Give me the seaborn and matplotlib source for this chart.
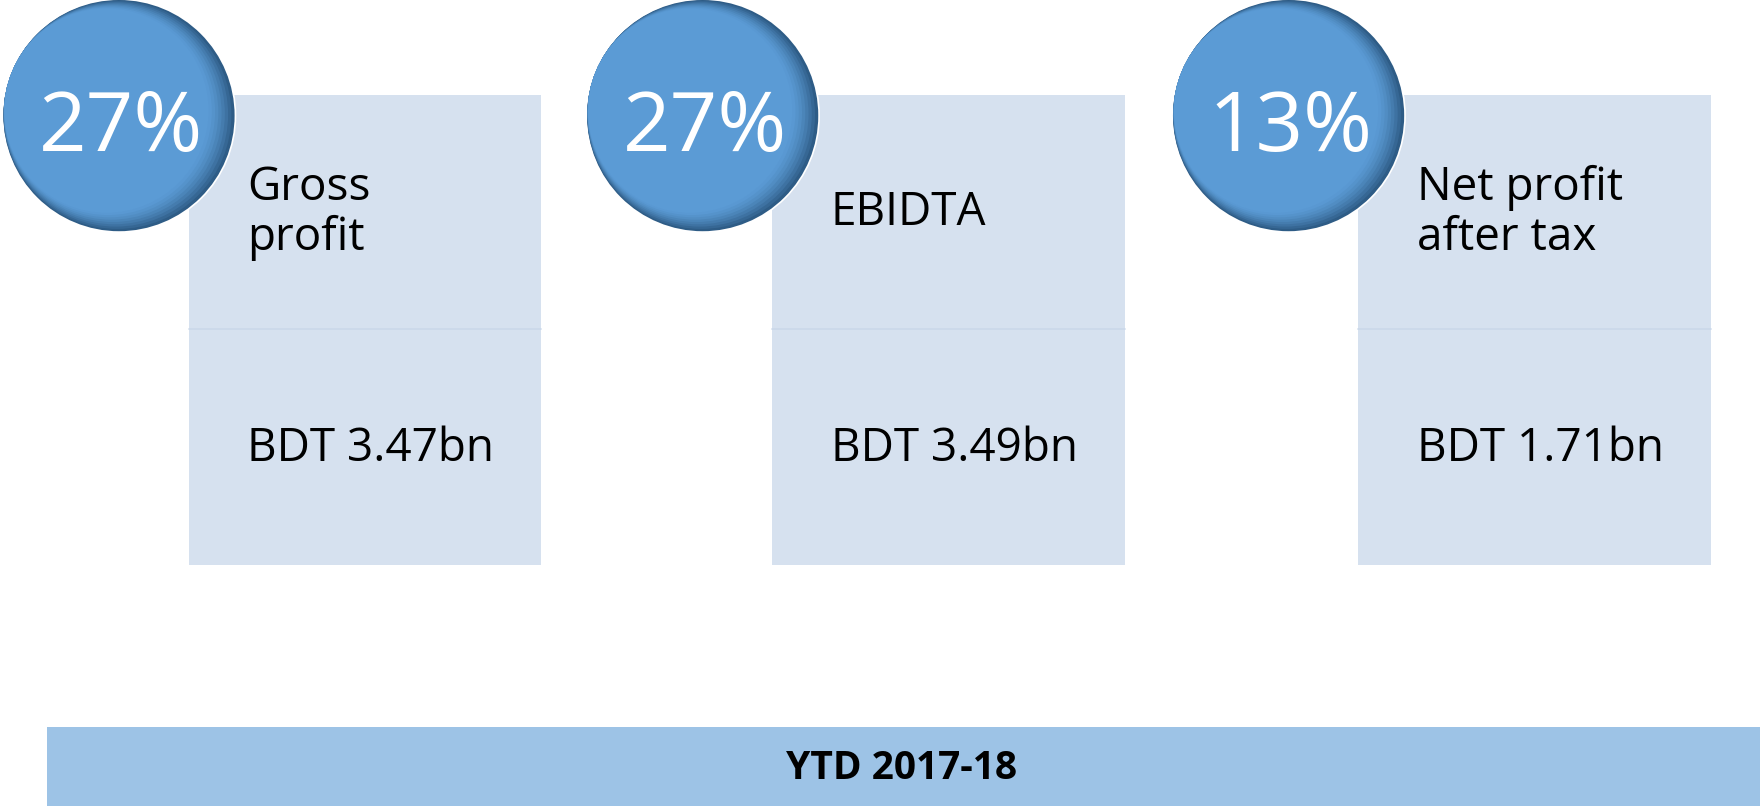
import numpy as np
import pandas as pd
import seaborn as sns
import matplotlib.pyplot as plt
from matplotlib.colors import to_rgb
from matplotlib.patches import Circle, Rectangle

# data
metrics = ["Gross\nprofit", "EBIDTA", "Net profit\nafter tax"]
margins = [27, 27, 13]          # %
amounts = [3.47, 3.49, 1.71]    # BDT bn
period = "YTD 2017-18"

df = pd.DataFrame({"metric": metrics, "margin": margins, "amount": amounts})

sns.set_style("white")
plt.rcParams["font.family"] = ["Open Sans", "DejaVu Sans"]

circle_blue = "#5B9BD5"
shadow_blue = "#2E5C86"
box_blue = "#D6E1EF"
line_blue = "#CAD8EA"
bar_blue = "#9DC3E6"

fig = plt.figure(figsize=(17.6, 8.07), dpi=100)
ax = fig.add_axes([0, 0, 1, 1])
ax.set_xlim(0, 1568)
ax.set_ylim(719, 0)
ax.axis("off")

# layout (in the 1568 x 719 frame)
box_x0 = [168, 688, 1210]
box_w = 314
box_top, box_bot, box_mid = 85, 503, 293
r = 103
circ_dx = -62   # circle centre relative to box left
circ_y = 103

# direction the highlight is pushed to (shadow ends up lower right)
d = np.array([-0.93, -0.37])

for i, row in df.iterrows():
    x0 = box_x0[i]
    ax.add_patch(Rectangle((x0, box_top), box_w, box_bot - box_top,
                           facecolor=box_blue, edgecolor="none", zorder=1))
    ax.plot([x0, x0 + box_w], [box_mid, box_mid], color=line_blue, lw=1.2, zorder=2)

    cx = x0 + circ_dx
    # white rim + dark inner shadow on the right
    ax.add_patch(Circle((cx, circ_y), r + 1.5, facecolor="white", edgecolor="none", zorder=3))
    ax.add_patch(Circle((cx, circ_y), r, facecolor=shadow_blue, edgecolor="none", zorder=4))
    steps = 8
    for k in range(steps):
        t = (k + 1) / steps
        c = np.array(to_rgb(shadow_blue)) * (1 - t) ** 1.5 + \
            np.array(to_rgb(circle_blue)) * (1 - (1 - t) ** 1.5)
        s = 1.5 * (k + 1)
        ax.add_patch(Circle((cx + d[0] * s, circ_y + d[1] * s), r - s,
                            facecolor=c, edgecolor="none", zorder=5 + k))

    ax.text(cx + 2, circ_y + 13, f"{row['margin']}%", color="white", fontsize=60,
            ha="center", va="center", zorder=20)

    ax.text(x0 + 52, 190, row["metric"], fontsize=33, color="black",
            ha="left", va="center", linespacing=1.12, zorder=20)
    ax.text(x0 + 52, 411, f"BDT {row['amount']:.2f}bn", fontsize=33, color="black",
            ha="left", va="baseline", zorder=20)

# period band at the bottom
ax.add_patch(Rectangle((42, 648), 1568 - 42, 70, facecolor=bar_blue, edgecolor="none", zorder=1))
ax.text(803, 685, period, fontsize=28, fontweight="bold", color="black",
        ha="center", va="center", zorder=20)

fig.savefig("out.png", dpi=100)
